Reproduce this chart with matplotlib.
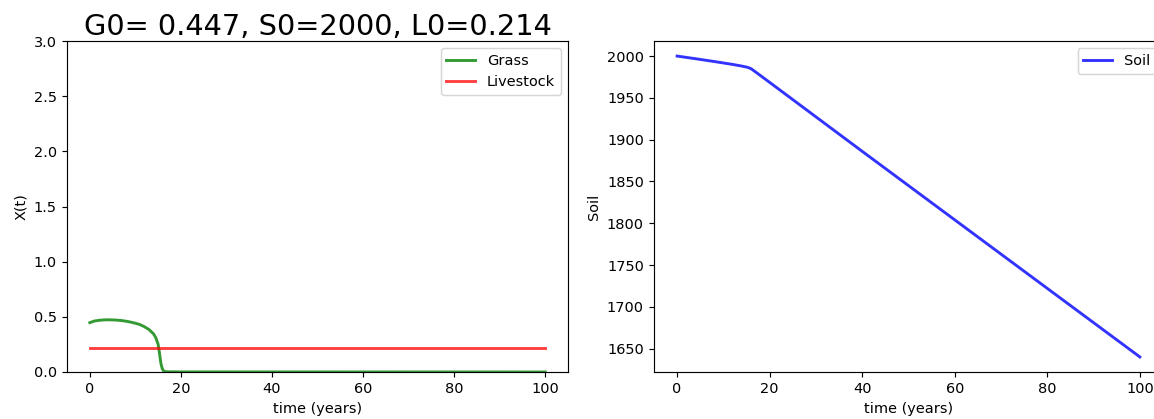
import matplotlib
matplotlib.use('Agg')
import matplotlib.pyplot as plt

# grass / livestock trajectories
tGrass = [0, 1, 2, 3, 4, 5, 6, 7, 8, 9, 10, 11, 12, 13, 14, 14.5, 15,
          15.3, 15.6, 15.9, 16.2, 16.5, 17, 20, 100]
grass = [0.447, 0.462, 0.468, 0.472, 0.473, 0.472, 0.470, 0.466, 0.460,
         0.452, 0.442, 0.430, 0.410, 0.385, 0.345, 0.310, 0.250,
         0.170, 0.080, 0.030, 0.010, 0.004, 0.002, 0.001, 0.0]
tLivestock = [0, 100]
livestock = [0.214, 0.214]

# soil trajectory
tSoil = [0, 4, 8, 12, 14, 15, 15.5, 16, 17, 20, 40, 60, 80, 100]
soil = [2000, 1996.8, 1993.5, 1990, 1988, 1986.8, 1986, 1984.8, 1980.8,
        1968.5, 1886, 1804, 1722, 1640]

G0, S0, L0 = 0.447, 2000, 0.214

dpi = 104
fig = plt.figure(figsize=(1154 / dpi, 419 / dpi), dpi=dpi)

# left panel: grass and livestock
ax1 = fig.add_axes([0.0581, 0.1122, 0.4341, 0.7899])
ax1.plot(tGrass, grass, 'g', alpha=0.8, lw=2, label='Grass')
ax1.plot(tLivestock, livestock, 'r', alpha=0.75, lw=2, label='Livestock')
ax1.set_ylim(0, 3)
ax1.set_xlabel('time (years)')
ax1.set_ylabel('X(t)')
ax1.set_title('G0= %.3f, S0=%d, L0=%.3f' % (G0, S0, L0), fontsize=20, pad=3)
ax1.legend(loc='upper right')

# right panel: soil (runs slightly past the right edge, as in the screenshot)
ax2 = fig.add_axes([0.5667, 0.1122, 0.4411, 0.7899])
ax2.plot(tSoil, soil, 'b', alpha=0.8, lw=2, label='Soil')
ax2.set_xlabel('time (years)')
ax2.set_ylabel('Soil')
ax2.legend(loc='upper right')

fig.savefig('out.png', dpi=dpi)
